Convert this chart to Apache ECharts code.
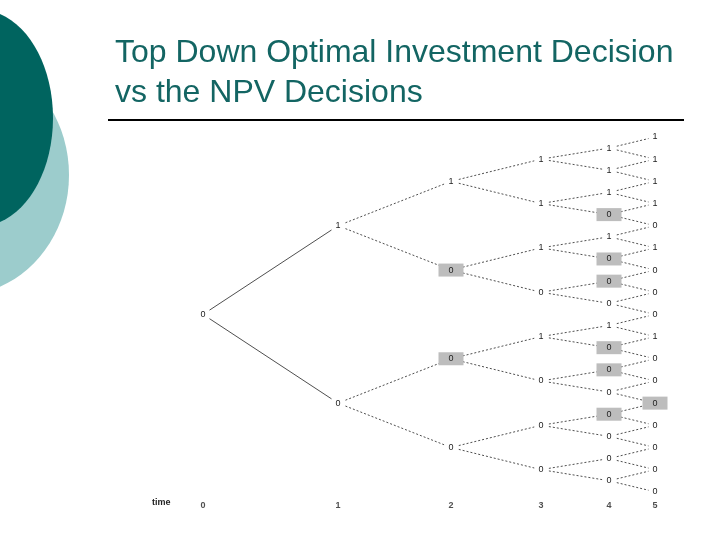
<!DOCTYPE html>
<html><head><meta charset="utf-8">
<script src="https://cdn.jsdelivr.net/npm/echarts@6/dist/echarts.min.js"></script>
<style>html,body{margin:0;padding:0;background:#fff}#c{width:720px;height:540px}</style>
</head><body><div id="c"></div>
<script>
// Tree values per time step (top to bottom); 'h' marks highlighted (grey box) nodes
var timeLabels = ['0','1','2','3','4','5'];
var levelX = [0, 135, 248, 338, 406, 452];
var t0 = ['0'];
var t1 = ['1','0'];
var t2 = ['1','0h','0h','0'];
var t3 = ['1','1','1','0','1','0','0','0'];
var t4 = ['1','1','1','0h','1','0h','0h','0','1','0h','0h','0','0h','0','0','0'];
var t5 = ['1','1','1','1','0','1','0','0','0','1','0','0','0h','0','0','0','0'];
var levels = [t0,t1,t2,t3,t4,t5];

function yOf(level, i){
  if(level===5) return i-0.5;
  var span = Math.pow(2,4-level);
  return i*span + (span-1)/2;
}
var nodes=[], links=[];
levels.forEach(function(arr,l){
  arr.forEach(function(v,i){
    var hl = v.indexOf('h')>=0;
    nodes.push({name:l+'_'+i, value:[levelX[l], yOf(l,i)],
      label:{show:true, formatter:v.replace('h',''), position:'inside', color:'#222',
        fontSize:9, backgroundColor: hl?'#bdbdbd':'#fff',
        padding: hl?[2,10]:[2,4]}});
    var ls = l===0 ? {type:'solid', width:0.8} : undefined;
    if(l<4){
      links.push({source:l+'_'+i, target:(l+1)+'_'+(2*i), lineStyle:ls});
      links.push({source:l+'_'+i, target:(l+1)+'_'+(2*i+1), lineStyle:ls});
    } else if(l===4){
      links.push({source:'4_'+i, target:'5_'+i});
      links.push({source:'4_'+i, target:'5_'+(i+1)});
    }
  });
});
var timeData = timeLabels.map(function(t,i){return [levelX[i], 16.1, t];});

var chart = echarts.init(document.getElementById('c'));
chart.setOption({
  animation:false,
  grid:{left:203, width:452, top:137, height:377},
  xAxis:{type:'value', min:0, max:452, show:false},
  yAxis:{type:'value', min:-0.5, max:16.5, inverse:true, show:false},
  graphic:[
    {type:'ellipse', shape:{cx:-40, cy:175, rx:109, ry:120}, style:{fill:'#9ccccc'}},
    {type:'ellipse', shape:{cx:-20, cy:118, rx:73, ry:108}, style:{fill:'#00645f'}},
    {type:'text', left:115, top:33, style:{text:'Top Down Optimal Investment Decision\nvs the NPV Decisions',
      font:'32px "Liberation Sans", Arial, sans-serif', fill:'#136563', lineHeight:40}},
    {type:'line', shape:{x1:108, y1:120, x2:684, y2:120}, style:{stroke:'#000', lineWidth:2}},
    {type:'text', left:152, top:498, style:{text:'time', font:'bold 9px "Liberation Sans", sans-serif', fill:'#222'}}
  ],
  series:[
    {type:'graph', coordinateSystem:'cartesian2d', symbolSize:1, symbol:'circle',
     itemStyle:{color:'transparent'},
     data:nodes, links:links,
     lineStyle:{color:'#222', width:0.8, type:[2,2], opacity:1},
     z:3},
    {type:'scatter', data:timeData, symbolSize:0, silent:true,
     label:{show:true, position:'inside', formatter:function(p){return p.data[2];}, color:'#222', fontSize:9, fontWeight:'bold'}}
  ]
});
</script></body></html>
